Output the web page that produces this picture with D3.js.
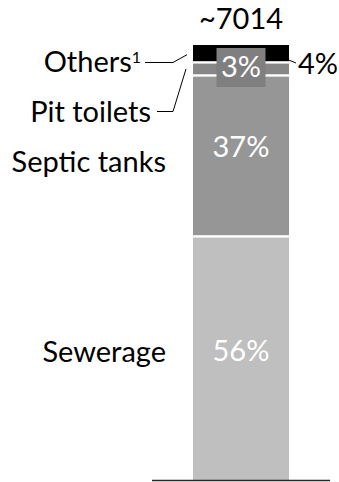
<!DOCTYPE html>
<html>
<head>
<meta charset="utf-8">
<script src="https://cdn.jsdelivr.net/npm/d3@7/dist/d3.min.js"></script>
<style>
  html, body { margin: 0; padding: 0; background: #fff; }
  svg { display: block; }
  text { font-family: Lato, "Open Sans", sans-serif; }
</style>
</head>
<body>
<svg id="chart" width="339" height="482"></svg>
<script>
// Shares of sanitation type, bottom to top of the stacked column
const categories = ["Sewerage", "Septic tanks", "Pit toilets", "Others"];
const shares = [56, 37, 3, 4];
const valueLabels = ["56%", "37%", "3%", "4%"];
const totalLabel = "~7014";

const colors = ["#bfbfbf", "#969696", "#878787", "#000000"];

const FS = 29;
const svg = d3.select("#chart");

const x = d3.scaleBand().domain(["total"]).range([193, 289]).padding(0);
const y = d3.scaleLinear().domain([0, 100]).range([480, 45]);

// stack the shares
const stack = [];
let acc = 0;
shares.forEach((v, i) => {
  stack.push({ cat: categories[i], v, y0: acc, y1: acc + v, color: colors[i], label: valueLabels[i] });
  acc += v;
});

const bx = x("total"), bw = x.bandwidth();
const cx = bx + bw / 2;
const mid = d => (y(d.y0) + y(d.y1)) / 2;

// segments, separated by thin white gaps
svg.append("g").selectAll("rect")
  .data(stack)
  .join("rect")
  .attr("x", bx)
  .attr("width", bw)
  .attr("y", d => y(d.y1) + (d.y1 < 100 ? 1.2 : 0))
  .attr("height", d => y(d.y0) - y(d.y1) - (d.y1 < 100 ? 1.2 : 0) - (d.y0 > 0 ? 1.2 : 0))
  .attr("fill", d => d.color);

// baseline
svg.append("line")
  .attr("x1", 152).attr("x2", 330)
  .attr("y1", y(0) + 0.5).attr("y2", y(0) + 0.5)
  .attr("stroke", "#262626").attr("stroke-width", 1.5);

// total above the column
svg.append("text")
  .attr("x", cx).attr("y", 29)
  .attr("text-anchor", "middle")
  .attr("font-size", FS)
  .attr("fill", "#000")
  .text(totalLabel);

// in-column labels for the two large segments
const big = stack.slice(0, 2);
const valueDy = [3, 1];
const catDy = [4, 16];
svg.append("g").selectAll("text")
  .data(big)
  .join("text")
  .attr("x", cx)
  .attr("y", (d, i) => mid(d) + valueDy[i])
  .attr("text-anchor", "middle")
  .attr("font-size", FS)
  .attr("fill", "#fff")
  .text(d => d.label);

// category labels to the left, for the two large segments
svg.append("g").selectAll("text")
  .data(big)
  .join("text")
  .attr("x", 166)
  .attr("y", (d, i) => mid(d) + catDy[i])
  .attr("text-anchor", "end")
  .attr("font-size", FS)
  .attr("fill", "#000")
  .text(d => d.cat);

// small segments: pit toilets value in a dark box over the column
const pit = stack[2], oth = stack[3];
svg.append("rect")
  .attr("x", cx - 24.5).attr("y", 48)
  .attr("width", 49).attr("height", 39)
  .attr("fill", "#7f7f7f");
svg.append("text")
  .attr("x", cx).attr("y", 76.5)
  .attr("text-anchor", "middle")
  .attr("font-size", FS)
  .attr("fill", "#fff")
  .text(pit.label);

// others value to the right with a short leader
svg.append("text")
  .attr("x", 338).attr("y", 73.5)
  .attr("text-anchor", "end")
  .attr("font-size", FS)
  .attr("fill", "#000")
  .text(oth.label);
svg.append("path")
  .attr("d", `M${bx + bw - 1},${mid(oth) + 6} L296,63`)
  .attr("fill", "none").attr("stroke", "#000").attr("stroke-width", 1);

// category labels with leaders for the small segments
const othText = svg.append("text")
  .attr("x", 141).attr("y", 72)
  .attr("text-anchor", "end")
  .attr("font-size", FS)
  .attr("fill", "#000");
othText.append("tspan").text(oth.cat);
othText.append("tspan").attr("font-size", 16).attr("dy", -9).text("1");

svg.append("path")
  .attr("d", `M145,62.5 L173,62.5 L187,${mid(oth) + 1}`)
  .attr("fill", "none").attr("stroke", "#000").attr("stroke-width", 1);

svg.append("text")
  .attr("x", 151).attr("y", 122)
  .attr("text-anchor", "end")
  .attr("font-size", FS)
  .attr("fill", "#000")
  .text(pit.cat);

svg.append("path")
  .attr("d", `M157,111.5 L173,111.5 L186,${mid(pit)}`)
  .attr("fill", "none").attr("stroke", "#000").attr("stroke-width", 1);
</script>
</body>
</html>
